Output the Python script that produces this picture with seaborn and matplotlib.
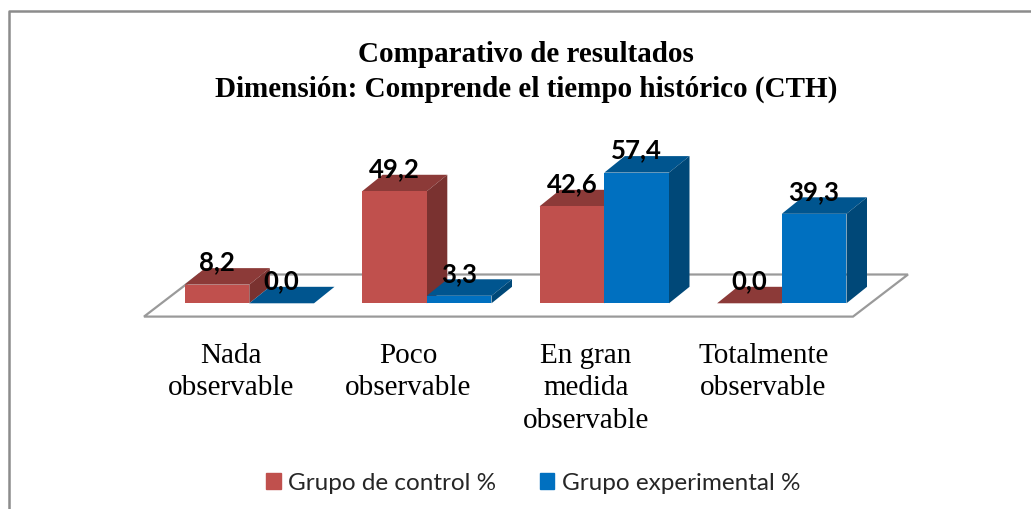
import matplotlib
matplotlib.use("Agg")
import matplotlib.pyplot as plt
import pandas as pd
import seaborn as sns
from matplotlib.patches import Polygon, Rectangle

categories = ["Nada\nobservable", "Poco\nobservable", "En gran\nmedida\nobservable", "Totalmente\nobservable"]
control = [8.2, 49.2, 42.6, 0.0]
experimental = [0.0, 3.3, 57.4, 39.3]
series_names = ["Grupo de control %", "Grupo experimental %"]
title_lines = "Comparativo de resultados\nDimensión: Comprende el tiempo histórico (CTH)"

W, H = 1031, 510
FRONT = {series_names[0]: "#C0504D", series_names[1]: "#0070C0"}
TOP = {series_names[0]: "#8C3A38", series_names[1]: "#00558F"}
SIDE = {series_names[0]: "#7A3230", series_names[1]: "#004878"}
GROUP_PX = 177.5
ZERO_Y = 304.3
PX_PER_UNIT = 2.277
DX, DY = 20.5, 16.5

sns.set_theme(style="white")
fig = plt.figure(figsize=(W / 100, H / 100), dpi=100, facecolor="white")

bg = fig.add_axes([0, 0, 1, 1], zorder=0)
bg.set_xlim(0, W)
bg.set_ylim(H, 0)
bg.axis("off")
bg.plot([9, 9, W + 5], [H + 5, 11.5, 11.5], color="#8C8C8C", lw=1.8, clip_on=False)
bg.add_patch(Polygon([(144, 317.6), (853, 317.6), (908, 275.5), (199, 275.5)], closed=True,
                     facecolor="white", edgecolor="#9A9A9A", lw=1.6))

x_left = 249.3 - GROUP_PX / 2
x_right = x_left + 4 * GROUP_PX
y_top = 100
ax = fig.add_axes([x_left / W, 1 - ZERO_Y / H, (x_right - x_left) / W, (ZERO_Y - y_top) / H], zorder=2)
ax.patch.set_alpha(0)

df = pd.DataFrame({
    "cat": categories * 2,
    "val": control + experimental,
    "serie": [series_names[0]] * 4 + [series_names[1]] * 4,
})
sns.barplot(data=df, x="cat", y="val", hue="serie", palette=FRONT, width=0.729, gap=0,
            saturation=1, legend=False, ax=ax, zorder=3, linewidth=0, edgecolor="none")
ax.set_xlim(-0.5, 3.5)
ax.set_ylim(0, (ZERO_Y - y_top) / PX_PER_UNIT)
ax.set_xlabel("")
ax.set_ylabel("")
ax.set_yticks([])
ax.set_xticks(range(4))
ax.set_xticklabels([])
ax.tick_params(length=0)
sns.despine(ax=ax, left=True, bottom=True)

ux = DX / GROUP_PX
uy = DY / PX_PER_UNIT
for name, cont in zip(series_names, ax.containers):
    for bar, v in zip(cont, df.loc[df.serie == name, "val"]):
        x0 = bar.get_x()
        x1 = x0 + bar.get_width()
        ax.add_patch(Polygon([(x0, v), (x1, v), (x1 + ux, v + uy), (x0 + ux, v + uy)],
                             closed=True, facecolor=TOP[name], edgecolor="none", zorder=2, clip_on=False))
        ax.add_patch(Polygon([(x1, 0), (x1, v), (x1 + ux, v + uy), (x1 + ux, uy)],
                             closed=True, facecolor=SIDE[name], edgecolor="none", zorder=2, clip_on=False))
        ax.text((x0 + x1) / 2, v + 23 / PX_PER_UNIT, f"{v:.1f}".replace(".", ","),
                ha="center", va="center", family="Lato", fontweight="bold",
                fontsize=18.5, color="black", zorder=6)

for i, lab in enumerate(categories):
    ax.text(i - 0.103, -16.8, lab, ha="center", va="top", family="Liberation Serif",
            fontsize=21, linespacing=1.33, color="black", clip_on=False)

bg.text(526, 72, title_lines, ha="center", va="center", family="Liberation Serif",
        fontweight="bold", fontsize=21, linespacing=1.35, color="black")

handles = [Rectangle((0, 0), 1, 1, color=FRONT[n]) for n in series_names]
fig.legend(handles, series_names, loc="center", bbox_to_anchor=(533 / W, 1 - 484 / H), ncol=2,
           frameon=False, prop={"family": "Lato", "size": 17.5}, handlelength=0.6, handleheight=0.6,
           handletextpad=0.3, columnspacing=1.8)

fig.savefig("out.png", dpi=100)
